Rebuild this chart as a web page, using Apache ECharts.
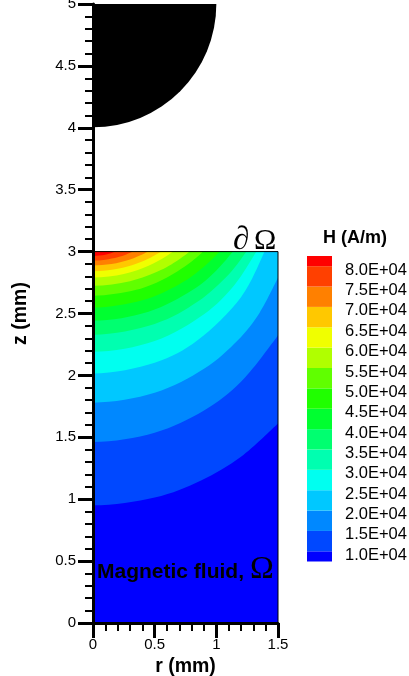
<!DOCTYPE html>
<html>
<head>
<meta charset="utf-8">
<script src="https://cdn.jsdelivr.net/npm/echarts@6/dist/echarts.min.js"></script>
<style>
html,body{margin:0;padding:0;background:#ffffff;}
#chart{width:409px;height:676px;}
</style>
</head>
<body>
<div id="chart"></div>
<script>
// ---------------- data ----------------
// contour levels of H, in units of 1E+04 A/m
const levels = [1.0, 1.5, 2.0, 2.5, 3.0, 3.5, 4.0, 4.5, 5.0, 5.5, 6.0, 6.5, 7.0, 7.5, 8.0];
// fill colour of each band (below 1.0, 1.0-1.5, ..., above 8.0)
const bandColors = ['#0000FF', '#0048FF', '#0088FF', '#00C8FF', '#00FFF0', '#00FFB0', '#00FF70', '#00FF30',
                    '#20FF00', '#60FF00', '#B0FF00', '#F0FF00', '#FFC800', '#FF8000', '#FF4000', '#FF0000'];
// contour lines, [r (mm), z (mm)] from the axis r = 0 outwards
const contour10 = [[0, 0.951], [0.5, 1.014], [0.876, 1.152], [1.2, 1.343], [1.5, 1.612]];
const contour15 = [[0, 1.463], [0.5, 1.537], [0.9, 1.716], [1.2, 1.948], [1.471, 2.284], [1.5, 2.333]];
const contour20 = [[0, 1.780], [0.5, 1.859], [0.9, 2.053], [1.174, 2.284], [1.35, 2.505], [1.5, 2.788]];
const contour25 = [[0, 2.016], [0.5, 2.103], [0.85, 2.285], [1.2, 2.632], [1.392, 3.0]];
const contour30 = [[0, 2.191], [0.5, 2.278], [0.9, 2.494], [1.15, 2.734], [1.325, 3.0]];
const contour35 = [[0, 2.329], [0.5, 2.416], [0.85, 2.596], [1.1, 2.815], [1.244, 3.0]];
const contour40 = [[0, 2.441], [0.45, 2.514], [0.8, 2.685], [1.0, 2.848], [1.135, 3.0]];
const contour45 = [[0, 2.548], [0.4, 2.607], [0.7, 2.737], [0.9, 2.878], [1.027, 3.0]];
const contour50 = [[0, 2.643], [0.35, 2.691], [0.6, 2.791], [0.8, 2.920], [0.892, 3.0]];
const contour55 = [[0, 2.724], [0.3, 2.761], [0.55, 2.851], [0.7, 2.938], [0.784, 3.0]];
const contour60 = [[0, 2.791], [0.25, 2.820], [0.45, 2.886], [0.58, 2.954], [0.649, 3.0]];
const contour65 = [[0, 2.842], [0.2, 2.861], [0.35, 2.902], [0.47, 2.953], [0.554, 3.0]];
const contour70 = [[0, 2.888], [0.15, 2.900], [0.3, 2.937], [0.4, 2.977], [0.446, 3.0]];
const contour75 = [[0, 2.928], [0.1, 2.935], [0.2, 2.955], [0.27, 2.977], [0.324, 3.0]];
const contour80 = [[0, 2.965], [0.1, 2.975], [0.15, 2.989], [0.185, 3.0]];
const contours = [contour10, contour15, contour20, contour25, contour30, contour35, contour40, contour45,
                  contour50, contour55, contour60, contour65, contour70, contour75, contour80];
// fluid domain and magnet (sphere section)
const fluidR = [0, 1.5];
const fluidZ = [0, 3];
const magnetCenter = [0, 5];
const magnetRadius = 1;
// axis ranges
const rRange = [0, 1.5];
const zRange = [0, 5];

// ---------------- drawing ----------------
const FONT = '"Liberation Sans", Arial, Helvetica, sans-serif';
const SERIF = '"Liberation Serif", "Times New Roman", serif';

function regionPath(api, pts) {
  const P = pts.map(p => api.coord(p));
  const n = P.length;
  const corner = api.coord([fluidR[0], fluidZ[1]]);
  // phantom point mirrored across the symmetry axis r = 0
  const start = [2 * P[0][0] - P[1][0], P[1][1]];
  let d = 'M' + corner[0] + ',' + corner[1] + ' L' + P[0][0] + ',' + P[0][1];
  for (let i = 0; i < n - 1; i++) {
    const a = i === 0 ? start : P[i - 1];
    const b = P[i], c = P[i + 1];
    const e = i + 2 < n ? P[i + 2] : P[n - 1];
    const c1 = [b[0] + (c[0] - a[0]) / 6, b[1] + (c[1] - a[1]) / 6];
    const c2 = [c[0] - (e[0] - b[0]) / 6, c[1] - (e[1] - b[1]) / 6];
    d += ' C' + c1[0] + ',' + c1[1] + ' ' + c2[0] + ',' + c2[1] + ' ' + c[0] + ',' + c[1];
  }
  const last = pts[n - 1];
  if (last[1] < fluidZ[1]) {
    const tr = api.coord([fluidR[1], fluidZ[1]]);
    d += ' L' + tr[0] + ',' + tr[1];
  }
  d += ' Z';
  return d;
}

const chart = echarts.init(document.getElementById('chart'), null, {renderer: 'canvas'});

const option = {
  animation: false,
  backgroundColor: '#ffffff',
  grid: [
    {left: 93, top: 4, width: 185, height: 619, outerBoundsMode: 'none', containLabel: false},
    {left: 307, top: 256, width: 25, height: 305.5, outerBoundsMode: 'none', containLabel: false}
  ],
  xAxis: [
    {
      gridIndex: 0, type: 'value', min: rRange[0], max: rRange[1], interval: 0.5, z: 10,
      name: 'r (mm)', nameLocation: 'middle', nameGap: 22,
      nameTextStyle: {fontFamily: FONT, fontWeight: 'bold', fontSize: 19.5, color: '#000'},
      axisLine: {show: true, onZero: false, lineStyle: {color: '#000', width: 3}},
      axisTick: {show: true, length: 15, lineStyle: {color: '#000', width: 3}},
      minorTick: {show: true, splitNumber: 5, length: 8, lineStyle: {color: '#000', width: 2}},
      axisLabel: {margin: 14, fontSize: 15, color: '#000', fontFamily: FONT, showMinLabel: true, showMaxLabel: true},
      splitLine: {show: false}, minorSplitLine: {show: false}
    },
    {gridIndex: 1, type: 'value', min: 0, max: 1, show: false}
  ],
  yAxis: [
    {
      gridIndex: 0, type: 'value', min: zRange[0], max: zRange[1], interval: 0.5, z: 10,
      name: 'z (mm)', nameLocation: 'middle', nameGap: 62, nameRotate: 90,
      nameTextStyle: {fontFamily: FONT, fontWeight: 'bold', fontSize: 19.5, color: '#000'},
      axisLine: {show: true, onZero: false, lineStyle: {color: '#000', width: 3}},
      axisTick: {show: true, length: 15, lineStyle: {color: '#000', width: 3}},
      minorTick: {show: true, splitNumber: 5, length: 8, lineStyle: {color: '#000', width: 2}},
      axisLabel: {margin: 17, fontSize: 15, color: '#000', fontFamily: FONT, showMinLabel: true, showMaxLabel: true},
      splitLine: {show: false}, minorSplitLine: {show: false}
    },
    {
      gridIndex: 1, type: 'value', position: 'right',
      min: levels[0] - 0.25, max: levels[levels.length - 1] + 0.25,
      axisLine: {show: false}, axisTick: {show: false}, splitLine: {show: false},
      axisLabel: {
        customValues: levels, margin: 13, fontSize: 16.5, color: '#000', fontFamily: FONT,
        verticalAlign: 'top', lineHeight: 8,
        formatter: v => Number(v).toFixed(1) + 'E+04'
      }
    }
  ],
  series: [
    {
      name: 'H', type: 'custom', xAxisIndex: 0, yAxisIndex: 0, clip: true, z: 2,
      data: bandColors.map((c, i) => [i]),
      renderItem: function (params, api) {
        const i = params.dataIndex;
        if (i === 0) {
          const p1 = api.coord([fluidR[0], fluidZ[1]]);
          const p2 = api.coord([fluidR[1], fluidZ[0]]);
          return {type: 'rect', z2: 0, shape: {x: p1[0], y: p1[1], width: p2[0] - p1[0], height: p2[1] - p1[1]},
                  style: {fill: bandColors[0]}};
        }
        return {type: 'path', z2: i, shape: {pathData: regionPath(api, contours[i - 1])},
                style: {fill: bandColors[i]}};
      }
    },
    {
      name: 'frame', type: 'custom', xAxisIndex: 0, yAxisIndex: 0, z: 3,
      data: [[0]],
      renderItem: function (params, api) {
        const p1 = api.coord([fluidR[0], fluidZ[1]]);
        const p2 = api.coord([fluidR[1], fluidZ[0]]);
        return {type: 'rect', shape: {x: p1[0], y: p1[1], width: p2[0] - p1[0], height: p2[1] - p1[1]},
                style: {fill: null, stroke: '#000', lineWidth: 1}};
      }
    },
    {
      name: 'magnet', type: 'custom', xAxisIndex: 0, yAxisIndex: 0, clip: true, z: 3,
      data: [[magnetCenter[0], magnetCenter[1], magnetRadius]],
      renderItem: function (params, api) {
        const c = api.coord([api.value(0), api.value(1)]);
        const s = api.size([api.value(2), api.value(2)]);
        return {type: 'sector', shape: {cx: c[0], cy: c[1], r0: 0, r: s[0], startAngle: 0, endAngle: Math.PI / 2, clockwise: true},
                style: {fill: '#000'}};
      }
    },
    {
      name: 'legend', type: 'custom', xAxisIndex: 1, yAxisIndex: 1, z: 3,
      data: bandColors.map((c, i) => [i]),
      renderItem: function (params, api) {
        const i = params.dataIndex;
        const lo = i === 0 ? levels[0] - 0.25 : levels[i - 1];
        const hi = i === bandColors.length - 1 ? levels[levels.length - 1] + 0.25 : levels[i];
        const p1 = api.coord([0, hi]);
        const p2 = api.coord([1, lo]);
        return {type: 'rect', shape: {x: p1[0], y: p1[1], width: p2[0] - p1[0], height: p2[1] - p1[1]},
                style: {fill: bandColors[i]}};
      }
    }
  ],
  graphic: [
    {type: 'text', z: 100, x: 355, y: 238,
     style: {text: 'H (A/m)', font: 'bold 18px ' + FONT, fill: '#000', align: 'center', verticalAlign: 'middle'}},
    {type: 'text', z: 100, x: 233, y: 240.5,
     style: {text: '\u2202', font: '33px ' + SERIF, fill: '#000', align: 'left', verticalAlign: 'middle'}},
    {type: 'text', z: 100, x: 254, y: 241,
     style: {text: '\u03A9', font: '30px ' + SERIF, fill: '#000', align: 'left', verticalAlign: 'middle'}},
    {type: 'text', z: 100, x: 97, y: 572,
     style: {text: 'Magnetic fluid,', font: 'bold 21px ' + FONT, fill: '#000', align: 'left', verticalAlign: 'middle'}},
    {type: 'text', z: 100, x: 250, y: 569.5,
     style: {text: '\u03A9', font: '32px ' + SERIF, fill: '#000', align: 'left', verticalAlign: 'middle'}}
  ]
};
chart.setOption(option);
</script>
</body>
</html>
